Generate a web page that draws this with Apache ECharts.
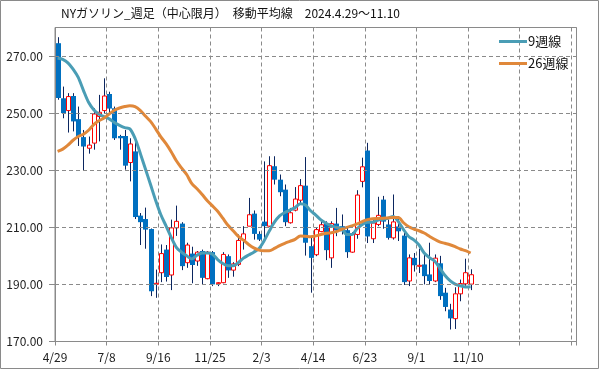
<!DOCTYPE html>
<html><head><meta charset="utf-8">
<script src="https://cdn.jsdelivr.net/npm/echarts@6/dist/echarts.min.js"></script>
<style>html,body{margin:0;padding:0;background:#fff}#c{width:599px;height:369px}</style>
</head><body><div id="c"></div>
<script>
// ---- data (weekly, 2024-04-29 .. 2025-11-10) ----
const tickLabels = ['4/29','7/8','9/16','11/25','2/3','4/14','6/23','9/1','11/10'];
const yTicks = [170,190,210,230,250,270];
const opens  = [274.5,255.2,250.9,256.0,247.9,241.6,237.7,239.5,248.8,250.9,256.7,251.7,242.0,242.0,232.7,236.6,214.1,212.9,209.4,190.2,
  194.1,202.2,193.3,209.8,211.3,197.6,200.8,198.2,201.7,192.0,201.3,190.4,190.6,199.9,195.0,197.0,205.7,210.4,214.8,207.7,
  212.0,210.4,231.4,226.7,223.2,211.6,216.0,219.5,224.6,203.4,200.4,208.5,211.3,199.3,211.3,210.4,209.0,201.3,207.5,226.1,
  236.9,206.0,211.0,219.7,211.0,206.3,210.3,207.1,191.2,199.3,196.4,197.0,193.5,191.2,197.4,187.1,181.2,178.0,186.7,190.2,190.1];
const closes = [255.3,250.0,255.8,247.1,241.8,238.3,238.8,249.7,250.3,256.0,251.6,241.2,241.2,231.6,239.2,213.6,211.8,209.2,187.6,190.4,
  200.8,192.6,209.8,212.1,196.4,203.8,196.8,201.3,192.3,201.3,190.0,190.6,200.5,194.9,197.2,205.4,207.7,214.4,207.7,205.7,
  210.4,231.6,226.7,222.3,211.8,215.1,219.9,224.6,204.6,199.3,209.2,210.9,202.0,211.3,208.9,208.6,201.3,207.7,221.3,231.2,
  206.8,211.5,214.2,212.0,206.3,211.9,208.6,190.8,199.3,196.7,196.7,192.9,191.2,199.2,185.9,182.1,178.1,186.7,190.3,194.1,193.4];
const lows   = [254.7,248.2,243.2,243.6,238.5,230.0,235.8,237.2,240.1,250.0,250.0,240.6,237.2,230.2,226.1,212.9,203.8,202.5,185.9,185.3,
  190.8,191.0,188.0,207.0,195.0,195.8,190.4,196.5,190.0,191.8,189.4,189.4,190.4,192.3,192.7,196.4,202.2,210.4,205.7,205.2,
  205.7,210.2,225.0,220.9,210.4,211.3,215.6,218.5,200.1,187.1,199.9,208.3,198.5,195.8,206.9,207.5,199.3,201.1,206.0,224.0,
  204.5,204.5,210.4,209.5,205.7,205.7,205.2,189.8,189.4,194.5,194.0,190.0,190.0,190.8,184.6,180.6,174.2,174.4,184.1,189.5,188.0];
const highs  = [276.6,259.3,257.0,257.0,252.3,244.1,241.8,251.7,256.4,262.2,257.5,252.3,242.4,244.1,241.2,240.1,215.0,216.9,209.6,195.2,
  204.0,203.8,212.7,217.6,211.8,204.6,203.2,201.7,202.2,201.7,201.7,190.8,201.3,200.5,197.8,207.5,210.4,220.3,215.9,208.6,
  233.1,234.9,234.9,228.5,225.0,216.8,224.1,226.9,234.6,206.9,209.8,212.1,212.1,212.1,216.8,214.5,210.4,208.3,223.0,234.4,
  239.6,212.5,220.7,221.0,212.7,221.5,213.9,209.0,200.5,201.0,202.5,200.8,204.6,200.5,200.0,188.8,183.2,189.0,191.7,199.0,195.3];
const ma9  = [269.3,268.8,267.6,265.4,262.5,258.0,253.8,251.2,249.6,248.8,248.0,246.7,245.7,244.9,244.5,241.2,236.0,230.5,225.0,219.4,
  214.4,210.5,206.5,203.0,201.3,200.0,198.9,200.2,201.0,201.0,200.6,198.7,197.3,196.5,196.5,197.6,199.2,200.3,201.3,202.6,
  205.3,208.7,211.8,214.0,215.2,216.0,216.9,218.3,217.8,215.8,214.3,212.6,211.4,210.5,210.0,209.6,207.5,207.5,209.5,211.0,
  211.8,211.8,212.5,212.8,213.2,213.8,212.0,209.2,206.8,205.6,203.8,201.0,199.4,198.2,195.8,193.2,191.3,190.1,189.5,189.1,189.2];
const ma26 = [236.6,237.4,238.8,240.5,241.8,242.6,244.0,246.0,247.3,248.3,249.7,251.0,251.8,252.3,252.6,252.3,251.0,249.0,247.1,244.5,
  241.7,239.3,236.5,233.3,230.8,228.5,225.3,223.5,221.5,219.3,217.5,215.6,213.2,210.7,208.8,206.8,205.5,204.0,202.8,202.0,
  201.8,201.8,202.6,203.6,204.4,205.1,205.8,207.0,206.9,206.7,207.0,207.5,207.9,208.1,208.5,209.3,210.0,210.5,211.2,212.0,
  212.7,213.0,213.1,213.2,213.3,213.4,213.4,211.6,210.2,209.4,208.8,208.0,206.9,205.8,204.9,204.4,203.9,203.2,202.4,201.8,201.0];

// categories: weekly dates from 2024-04-29, plus empty slots to the right edge
const nSlots = 101;
const categories = [];
for (let i = 0; i < nSlots; i++) {
  if (i < opens.length) {
    const d = new Date(2024, 3, 29 + 7 * i);
    categories.push((d.getMonth() + 1) + '/' + d.getDate());
  } else categories.push('');
}
const candleData = opens.map((o, i) => [i, o, closes[i], lows[i], highs[i]]);

const FONT = '"Noto Sans CJK JP", "Noto Sans", sans-serif';
const GRID_C = '#8a8a8a';
const chart = echarts.init(document.getElementById('c'), null, {renderer: 'canvas'});
chart.setOption({
  animation: false,
  backgroundColor: '#fff',
  textStyle: {fontFamily: FONT},
  title: {
    text: 'NYガソリン_週足（中心限月）　移動平均線　2024.4.29～11.10',
    left: 61, top: 7, padding: 0,
    textStyle: {fontSize: 12, fontWeight: 'normal', color: '#111', fontFamily: FONT}
  },
  legend: {
    orient: 'vertical', left: 499, top: 35, padding: 0, itemWidth: 28, itemHeight: 3, itemGap: 9,
    icon: 'rect',
    data: ['9週線', '26週線'],
    textStyle: {fontSize: 13, color: '#111', fontFamily: FONT, padding: [0, 0, 0, -4]}
  },
  grid: {left: 55, top: 27.5, right: 22.5, bottom: 27.5, show: true, borderColor: GRID_C, borderWidth: 1, containLabel: false},
  xAxis: [
    {type: 'category', data: categories, boundaryGap: true,
     axisLine: {show: false}, axisTick: {show: false}, axisLabel: {show: false}, splitLine: {show: false}},
    {type: 'value', min: 0, max: nSlots, interval: 10, position: 'bottom',
     axisLine: {show: true, onZero: false, lineStyle: {color: GRID_C}},
     axisTick: {show: true, length: 4, lineStyle: {color: GRID_C}},
     axisLabel: {fontSize: 12, color: '#222', margin: 10, fontFamily: FONT,
       formatter: v => (v % 10 === 0 && tickLabels[v / 10]) ? tickLabels[v / 10] : ''},
     splitLine: {show: true, lineStyle: {color: GRID_C, type: [4, 3], width: 1}}}
  ],
  yAxis: [
    {type: 'value', min: 170, max: 280,
     axisLine: {show: true, lineStyle: {color: GRID_C}},
     axisTick: {show: true, length: 6, customValues: yTicks, lineStyle: {color: GRID_C}},
     axisLabel: {fontSize: 12, color: '#222', margin: 12, fontFamily: FONT, customValues: yTicks,
       formatter: v => v.toFixed(2)},
     splitLine: {show: false}}
  ],
  series: [
    {type: 'line', name: 'grid', data: [], xAxisIndex: 0, yAxisIndex: 0, z: 1, silent: true,
     markLine: {silent: true, symbol: 'none', label: {show: false},
       lineStyle: {color: GRID_C, type: [4, 3], width: 1},
       data: yTicks.filter(v => v > 170).map(v => ({yAxis: v}))}},
    {type: 'custom', name: 'candle', xAxisIndex: 0, yAxisIndex: 0, z: 3,
     data: candleData,
     encode: {x: 0, y: [1, 2, 3, 4]},
     renderItem: function (params, api) {
       const i = api.value(0), o = api.value(1), c = api.value(2), l = api.value(3), h = api.value(4);
       const pO = api.coord([i, o]), pC = api.coord([i, c]), pL = api.coord([i, l]), pH = api.coord([i, h]);
       const x = Math.round(pO[0]) + 0.5;
       const up = c >= o;
       const top = Math.min(pO[1], pC[1]), bot = Math.max(pO[1], pC[1]);
       const bw = 4;
       const children = [
         {type: 'line', shape: {x1: x, y1: pH[1], x2: x, y2: pL[1]}, style: {stroke: '#0b2660', lineWidth: 1}}
       ];
       if (up) {
         children.push({type: 'rect', shape: {x: x - bw / 2, y: top, width: bw, height: Math.max(bot - top, 1)},
           style: {fill: '#ffffff', stroke: '#ff0000', lineWidth: 1}});
       } else {
         children.push({type: 'rect', shape: {x: x - bw / 2 - 0.5, y: top, width: bw + 1, height: Math.max(bot - top, 1)},
           style: {fill: '#0070c0', stroke: null}});
       }
       return {type: 'group', children: children};
     }},
    {type: 'line', name: '9週線', data: ma9, xAxisIndex: 0, yAxisIndex: 0, z: 4, smooth: 0.3,
     symbol: 'none', lineStyle: {color: '#4a9db5', width: 3}, itemStyle: {color: '#4a9db5'}},
    {type: 'line', name: '26週線', data: ma26, xAxisIndex: 0, yAxisIndex: 0, z: 4, smooth: 0.3,
     symbol: 'none', lineStyle: {color: '#e0883a', width: 3}, itemStyle: {color: '#e0883a'}}
  ],
  graphic: [
    {type: 'rect', silent: true, z: 100, shape: {x: 0.5, y: 0.5, width: 598, height: 368},
     style: {fill: null, stroke: '#8a8a8a', lineWidth: 1}}
  ]
});
</script>
</body></html>
